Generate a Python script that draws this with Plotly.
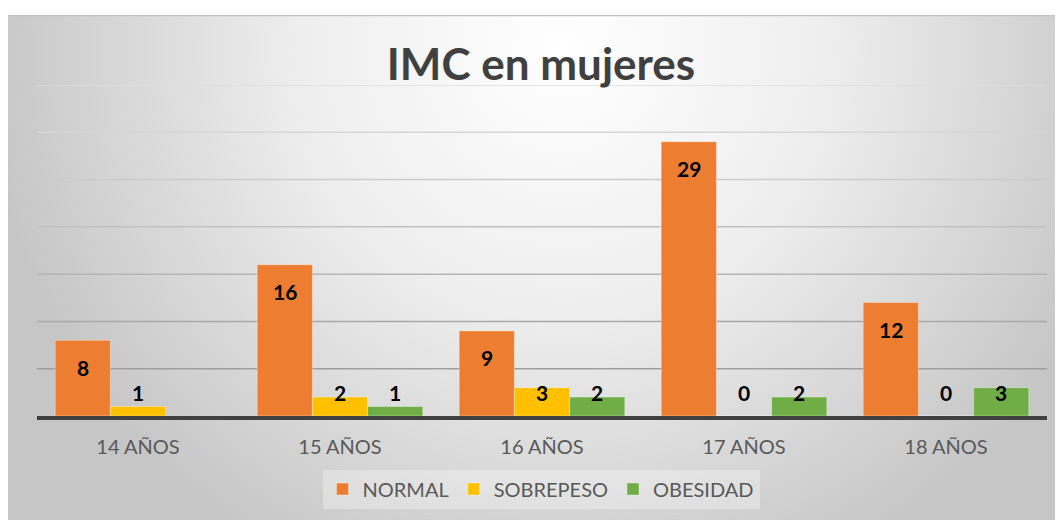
import base64
import plotly.graph_objects as go

categories = ["14 AÑOS", "15 AÑOS", "16 AÑOS", "17 AÑOS", "18 AÑOS"]
normal = [8, 16, 9, 29, 12]
sobrepeso = [1, 2, 3, 0, 0]
obesidad = [None, 1, 2, 2, 3]
series_names = ["NORMAL", "SOBREPESO", "OBESIDAD"]
series_colors = ["#ED7D31", "#FFC000", "#70AD47"]
grid_values = [5, 10, 15, 20, 25, 30, 35]
grid_colors = ["#9e9e9e", "#a9a9a9", "#b5b5b5", "#c1c1c1", "#cccccc", "#d6d6d6", "#dedede"]

# page body has an 8px margin, so the figure is drawn offset by (8, 8)
OFF = 8
W, H = 1063 - OFF, 520 - OFF
L, T = 37 - OFF, 85 - OFF
pw, ph = 1010, 331
R = W - L - pw
B = H - T - ph
Y_MAX = 35
FONT = "Lato"

# radial gradient background (chart area) as an SVG data URI
bx0, by0 = 0, 15 - OFF
bw, bh = W - bx0, H - by0
svg = f'''<svg xmlns="http://www.w3.org/2000/svg" width="{bw}" height="{bh}" viewBox="0 0 {bw} {bh}">
<defs><radialGradient id="g" gradientUnits="userSpaceOnUse" cx="555" cy="35" r="580">
<stop offset="0" stop-color="#ffffff"/><stop offset="0.45" stop-color="#eeeeee"/><stop offset="1" stop-color="#c6c6c6"/>
</radialGradient></defs>
<rect x="0" y="0" width="{bw}" height="{bh}" fill="url(#g)"/>
<line x1="0" y1="0.5" x2="{bw}" y2="0.5" stroke="#c2c2c2" stroke-width="1.5"/>
</svg>'''
src = "data:image/svg+xml;base64," + base64.b64encode(svg.encode()).decode()

fig = go.Figure()
all_series = [normal, sobrepeso, obesidad]
for name, vals, col in zip(series_names, all_series, series_colors):
    fig.add_trace(go.Bar(
        x=categories, y=vals, name=name,
        marker=dict(color=col, line=dict(width=1, color="rgba(255,255,255,0.35)")),
        hoverinfo="skip",
    ))

# data labels
px_per_unit = ph / Y_MAX
barw = (1 - 0.18) / 3
annotations = []
for k, vals in enumerate(all_series):
    for i, v in enumerate(vals):
        if v is None:
            continue
        xpos = i + (k - 1) * barw
        if v * px_per_unit - 27 >= 24:
            yv, ys = v, -27
        else:
            yv, ys = 0, 24
        annotations.append(dict(
            x=xpos, y=yv, xref="x", yref="y", yshift=ys, text=f"<b>{v}</b>",
            showarrow=False, font=dict(family=FONT, size=21, color="#000000"),
        ))

shapes = []
for gv, gc in zip(grid_values, grid_colors):
    shapes.append(dict(type="line", xref="paper", yref="y", x0=0, x1=1, y0=gv, y1=gv,
                       line=dict(color=gc, width=1.5), layer="below"))

cx_title = (541 - 37) / pw
fig.update_layout(
    width=W, height=H,
    margin=dict(l=L, r=R, t=T, b=B, pad=0),
    paper_bgcolor="#ffffff",
    plot_bgcolor="rgba(0,0,0,0)",
    barmode="group", bargap=0.18, bargroupgap=0,
    title=dict(text="<b>IMC en mujeres</b>", x=cx_title, xref="paper", xanchor="center",
               y=1 - (65 - OFF) / H, yanchor="middle",
               font=dict(family=FONT, size=44, color="#404040")),
    xaxis=dict(showgrid=False, showline=True, linecolor="#404040", linewidth=3.5,
               ticks="", tickfont=dict(family=FONT, size=20, color="#595959"),
               ticklabelstandoff=10, fixedrange=True),
    yaxis=dict(range=[0, Y_MAX], showgrid=False, zeroline=False, showticklabels=False,
               showline=False, fixedrange=True),
    legend=dict(orientation="h", x=cx_title, xanchor="center", y=-(489 - 416) / ph,
                yanchor="middle", bgcolor="rgba(255,255,255,0.3)",
                font=dict(family=FONT, size=20, color="#595959"),
                itemwidth=30, traceorder="normal"),
    annotations=annotations,
    shapes=shapes,
    images=[dict(source=src, xref="paper", yref="paper",
                 x=(bx0 - L) / pw, y=1 + (T - by0) / ph,
                 sizex=bw / pw, sizey=bh / ph, sizing="stretch",
                 xanchor="left", yanchor="top", layer="below")],
    showlegend=True,
)

fig.write_html("out.html")
